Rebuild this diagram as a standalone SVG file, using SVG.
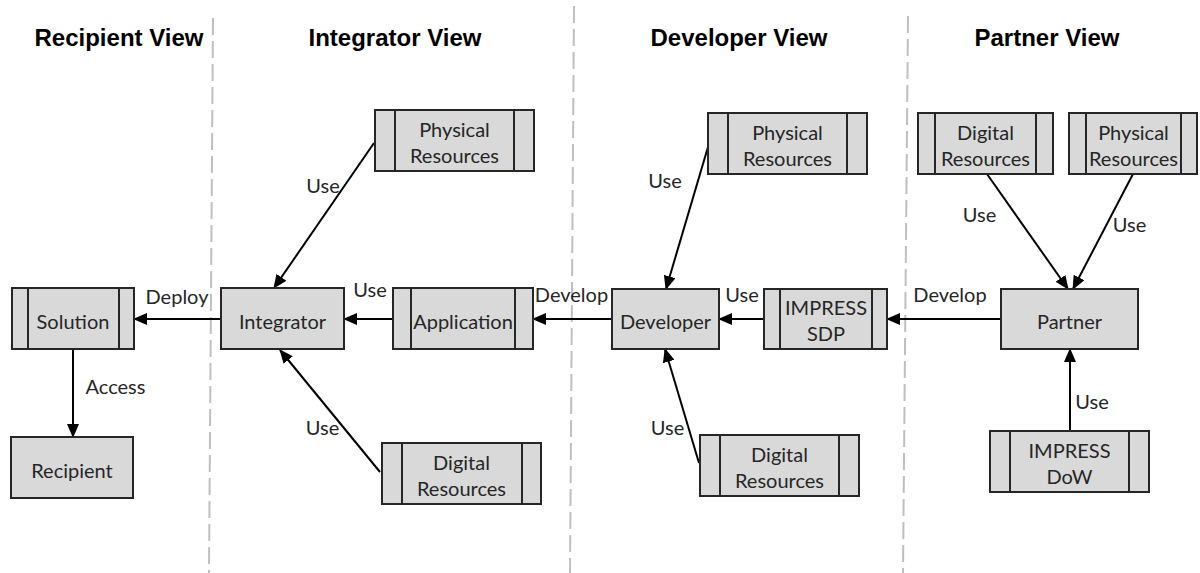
<svg xmlns="http://www.w3.org/2000/svg" width="1200" height="573" viewBox="0 0 1200 573">
<defs>
<style>
.title{font-family:"Liberation Sans",Arial,sans-serif;font-weight:bold;font-size:24px;fill:#000;text-anchor:middle}
.box{fill:#d9d9d9;stroke:#262626;stroke-width:2}
.bar{stroke:#262626;stroke-width:2}
.lbl{font-family:Lato,"Open Sans",sans-serif;font-size:20px;fill:#262626;text-anchor:middle}
.edge{stroke:#000;stroke-width:2;fill:none;marker-end:url(#arr)}
.div{stroke:#bfbfbf;stroke-width:2;stroke-dasharray:17 6}
</style>
<marker id="arr" markerUnits="userSpaceOnUse" markerWidth="14" markerHeight="12" refX="13" refY="6" orient="auto">
<path d="M0,0 L14,6 L0,12 z" fill="#000"/>
</marker>
</defs>
<rect width="1200" height="573" fill="#fff"/>
<g id="dividers">
<line class="div" x1="213" y1="18" x2="209" y2="573"/>
<line class="div" x1="574" y1="6" x2="570" y2="573"/>
<line class="div" x1="908" y1="16" x2="903" y2="573"/>
</g>
<g id="titles">
<text class="title" x="119" y="46">Recipient View</text>
<text class="title" x="395" y="46">Integrator View</text>
<text class="title" x="739" y="46">Developer View</text>
<text class="title" x="1047" y="46">Partner View</text>
</g>
<g id="connectors">
<line class="edge" x1="221" y1="319" x2="134" y2="319"/>
<line class="edge" x1="73" y1="349" x2="73" y2="437"/>
<line class="edge" x1="374" y1="143" x2="274" y2="288"/>
<line class="edge" x1="380" y1="472" x2="280" y2="350"/>
<line class="edge" x1="393" y1="319" x2="344" y2="319"/>
<line class="edge" x1="612" y1="319" x2="533" y2="319"/>
<line class="edge" x1="708" y1="147" x2="666" y2="289"/>
<line class="edge" x1="699" y1="463" x2="665" y2="349"/>
<line class="edge" x1="764" y1="319" x2="719" y2="319"/>
<line class="edge" x1="1001" y1="319" x2="887" y2="319"/>
<line class="edge" x1="987" y1="174" x2="1068" y2="289"/>
<line class="edge" x1="1133" y1="174" x2="1073" y2="289"/>
<line class="edge" x1="1070" y1="431" x2="1070" y2="349"/>
<text class="lbl" x="177" y="304">Deploy</text>
<text class="lbl" x="115.5" y="394">Access</text>
<text class="lbl" x="323" y="193">Use</text>
<text class="lbl" x="370" y="297">Use</text>
<text class="lbl" x="322.5" y="435">Use</text>
<text class="lbl" x="571.5" y="302">Develop</text>
<text class="lbl" x="665" y="188">Use</text>
<text class="lbl" x="742" y="302">Use</text>
<text class="lbl" x="667.5" y="435">Use</text>
<text class="lbl" x="950" y="302">Develop</text>
<text class="lbl" x="979.5" y="222">Use</text>
<text class="lbl" x="1129.5" y="232">Use</text>
<text class="lbl" x="1092" y="409">Use</text>
</g>
<g id="solution">
<rect class="box" x="12" y="288" width="122" height="61"/>
<line class="bar" x1="28" y1="288" x2="28" y2="349"/>
<line class="bar" x1="119" y1="288" x2="119" y2="349"/>
<text class="lbl" x="73" y="329">Solution</text>
</g>
<g id="recipient">
<rect class="box" x="11" y="437" width="122" height="61"/>
<text class="lbl" x="72" y="478">Recipient</text>
</g>
<g id="integrator">
<rect class="box" x="221" y="288" width="123" height="61"/>
<text class="lbl" x="282.5" y="329">Integrator</text>
</g>
<g id="application">
<rect class="box" x="393" y="288" width="140" height="61"/>
<line class="bar" x1="411" y1="288" x2="411" y2="349"/>
<line class="bar" x1="515" y1="288" x2="515" y2="349"/>
<text class="lbl" x="463" y="329">Application</text>
</g>
<g id="int-physical">
<rect class="box" x="375" y="110" width="159" height="61"/>
<line class="bar" x1="395" y1="110" x2="395" y2="171"/>
<line class="bar" x1="514" y1="110" x2="514" y2="171"/>
<text class="lbl" x="454.5" y="137">Physical</text>
<text class="lbl" x="454.5" y="163">Resources</text>
</g>
<g id="int-digital">
<rect class="box" x="382" y="443" width="159" height="61"/>
<line class="bar" x1="402" y1="443" x2="402" y2="504"/>
<line class="bar" x1="522" y1="443" x2="522" y2="504"/>
<text class="lbl" x="461.5" y="470">Digital</text>
<text class="lbl" x="461.5" y="496">Resources</text>
</g>
<g id="developer">
<rect class="box" x="612" y="289" width="107" height="60"/>
<text class="lbl" x="665.5" y="329">Developer</text>
</g>
<g id="impress-sdp">
<rect class="box" x="764" y="289" width="123" height="60"/>
<line class="bar" x1="780" y1="289" x2="780" y2="349"/>
<line class="bar" x1="872" y1="289" x2="872" y2="349"/>
<text class="lbl" x="826" y="315">IMPRESS</text>
<text class="lbl" x="826" y="341">SDP</text>
</g>
<g id="dev-physical">
<rect class="box" x="708" y="113" width="159" height="61"/>
<line class="bar" x1="728" y1="113" x2="728" y2="174"/>
<line class="bar" x1="847" y1="113" x2="847" y2="174"/>
<text class="lbl" x="787.5" y="140">Physical</text>
<text class="lbl" x="787.5" y="166">Resources</text>
</g>
<g id="dev-digital">
<rect class="box" x="700" y="435" width="159" height="61"/>
<line class="bar" x1="720" y1="435" x2="720" y2="496"/>
<line class="bar" x1="839" y1="435" x2="839" y2="496"/>
<text class="lbl" x="779.5" y="462">Digital</text>
<text class="lbl" x="779.5" y="488">Resources</text>
</g>
<g id="partner">
<rect class="box" x="1001" y="289" width="137" height="60"/>
<text class="lbl" x="1069.5" y="329">Partner</text>
</g>
<g id="par-digital">
<rect class="box" x="918" y="113" width="135" height="61"/>
<line class="bar" x1="935" y1="113" x2="935" y2="174"/>
<line class="bar" x1="1036" y1="113" x2="1036" y2="174"/>
<text class="lbl" x="985.5" y="140">Digital</text>
<text class="lbl" x="985.5" y="166">Resources</text>
</g>
<g id="par-physical">
<rect class="box" x="1069" y="113" width="128" height="61"/>
<line class="bar" x1="1086" y1="113" x2="1086" y2="174"/>
<line class="bar" x1="1181" y1="113" x2="1181" y2="174"/>
<text class="lbl" x="1133.5" y="140">Physical</text>
<text class="lbl" x="1133.5" y="166">Resources</text>
</g>
<g id="impress-dow">
<rect class="box" x="990" y="431" width="159" height="61"/>
<line class="bar" x1="1010" y1="431" x2="1010" y2="492"/>
<line class="bar" x1="1129" y1="431" x2="1129" y2="492"/>
<text class="lbl" x="1069.5" y="458">IMPRESS</text>
<text class="lbl" x="1069.5" y="484">DoW</text>
</g>
</svg>
